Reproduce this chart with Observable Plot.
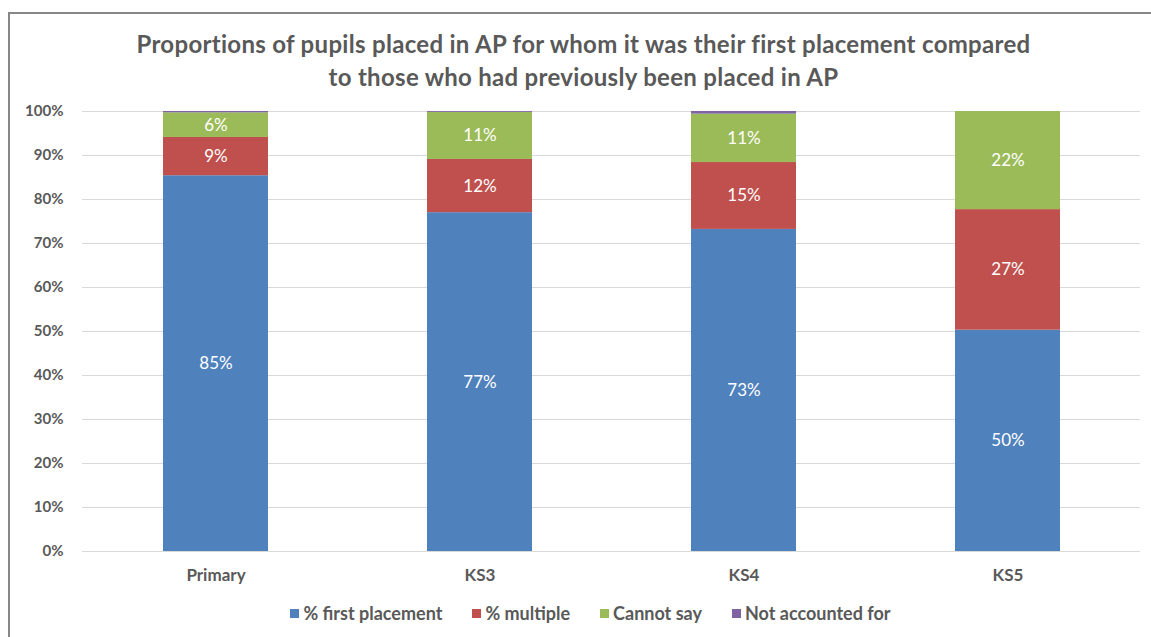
<!DOCTYPE html>
<html>
<head>
<meta charset="utf-8">
<script src="https://cdn.jsdelivr.net/npm/d3@7"></script>
<script src="https://cdn.jsdelivr.net/npm/@observablehq/plot@0.6"></script>
<style>
  html, body { margin: 0; padding: 0; background: #fff; }
  body { width: 1151px; height: 637px; overflow: hidden; position: relative; font-family: Lato, "Open Sans", sans-serif; }
  #frame { position: absolute; left: 8px; top: 12px; width: 1160px; height: 640px; border: 2px solid #878787; box-sizing: border-box; }
  #title { position: absolute; left: 8px; width: 1151px; top: 27px; text-align: center; font-weight: bold; font-size: 24px; letter-spacing: 0.3px; line-height: 33px; color: #595959; }
  #chart { position: absolute; left: 0; top: 0; }
  #legend { position: absolute; top: 602px; left: 15px; width: 1151px; display: flex; justify-content: center; gap: 30px; font-size: 18px; font-weight: bold; color: #595959; }
  #legend span.item { display: inline-flex; align-items: center; }
  #legend span.sw { display: inline-block; width: 9px; height: 9px; margin-right: 4px; }
</style>
</head>
<body>
<div id="frame"></div>
<div id="chart"></div>
<div id="title">Proportions of pupils placed in AP for whom it was their first placement compared<br>to those who had previously been placed in AP</div>
<div id="legend"></div>
<script>
const categories = ["Primary", "KS3", "KS4", "KS5"];
const seriesNames = ["% first placement", "% multiple", "Cannot say", "Not accounted for"];
const seriesColors = ["#4F81BD", "#C0504D", "#9BBB59", "#8064A2"];
const firstPlacement = [85.4, 77.0, 73.2, 50.3];
const multiple = [8.7, 12.1, 15.2, 27.4];
const cannotSay = [5.6, 10.7, 11.0, 22.3];
const notAccounted = [0.3, 0.2, 0.6, 0.0];
const yTicks = [0, 10, 20, 30, 40, 50, 60, 70, 80, 90, 100];

const seriesValues = [firstPlacement, multiple, cannotSay, notAccounted];
const rows = [];
seriesNames.forEach((s, si) => {
  categories.forEach((c, ci) => {
    rows.push({category: c, series: s, value: seriesValues[si][ci], labeled: si < 3});
  });
});

const chart = Plot.plot({
  width: 1151,
  height: 637,
  marginTop: 111,
  marginBottom: 86,
  marginLeft: 82,
  marginRight: 11,
  style: {fontFamily: "Lato, 'Open Sans', sans-serif", background: "transparent", overflow: "visible"},
  x: {domain: categories, paddingInner: 0.603, paddingOuter: 0.3015, label: null, axis: null},
  y: {domain: [0, 100], label: null, axis: null},
  color: {domain: seriesNames, range: seriesColors},
  marks: [
    Plot.ruleY(yTicks, {stroke: "#d9d9d9", strokeWidth: 1}),
    Plot.barY(rows, Plot.stackY({x: "category", y: "value", fill: "series", order: seriesNames})),
    Plot.text(rows.filter(d => d.labeled), Plot.stackY({
      x: "category", y: "value", z: "series", order: seriesNames.slice(0, 3),
      text: d => Math.round(d.value) + "%",
      fill: "white", fontSize: 17
    })),
    Plot.axisY({ticks: yTicks, tickFormat: d => d + "%", tickSize: 0, tickPadding: 19, fontSize: 15, fontWeight: "bold", fill: "#595959", label: null}),
    Plot.axisX({tickSize: 0, tickPadding: 17, fontSize: 17, fontWeight: "bold", fill: "#595959", label: null})
  ]
});
document.getElementById("chart").appendChild(chart);

const legend = document.getElementById("legend");
seriesNames.forEach((s, i) => {
  const item = document.createElement("span");
  item.className = "item";
  const sw = document.createElement("span");
  sw.className = "sw";
  sw.style.background = seriesColors[i];
  item.appendChild(sw);
  item.appendChild(document.createTextNode(s));
  legend.appendChild(item);
});
</script>
</body>
</html>
